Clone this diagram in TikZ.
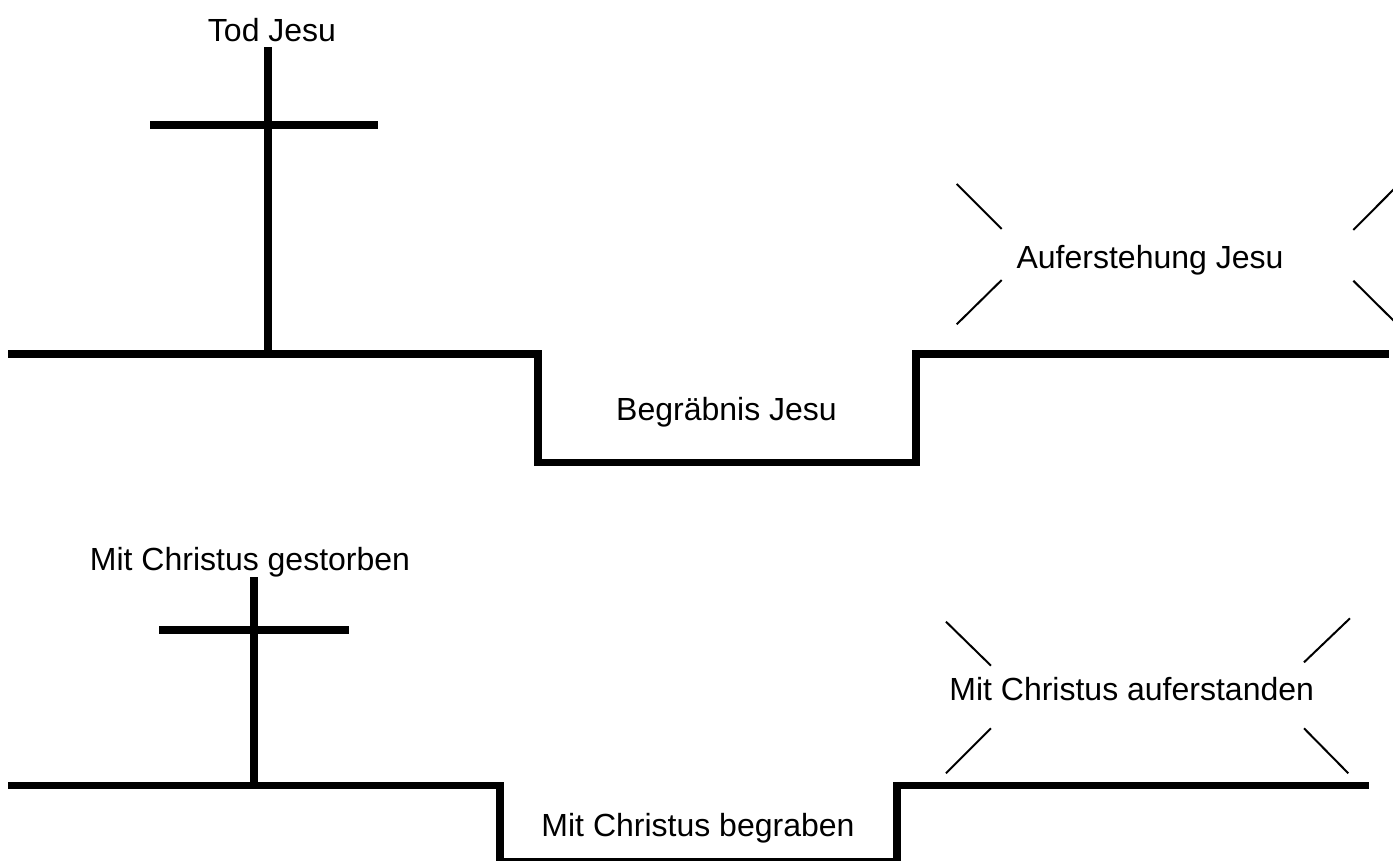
\documentclass[tikz,border=0pt]{standalone}
\usepackage{fontspec}
\setmainfont{Liberation Sans}
\usepackage{tikz}
\usetikzlibrary{positioning}

\tikzset{
  ground/.style={line width=7.7pt, line join=miter},
  beam/.style={line width=7.7pt},
  ray/.style={line width=2pt},
  caption/.style={anchor=base, inner sep=0pt, font=\fontsize{32}{38}\selectfont}
}

\begin{document}
\begin{tikzpicture}[x=1pt, y=-1pt]

    \useasboundingbox (0, 0) rectangle (1393, 860);

    % Jesus
    \draw [ground] (8, 354) -- (538, 354) -- (538, 462.5)
    -- (916, 462.5) -- (916, 354) -- (1389, 354);
    \draw [beam] (268, 47) -- (268, 354);
    \draw [beam] (150, 125) -- (378, 125);

    \node [caption] (tod) at (272, 41) {Tod Jesu};
    \node [caption] (grab) at (726.5, 420) {Begräbnis Jesu};
    \node [caption] (auf) at (1150, 268) {Auferstehung Jesu};

    \draw [ray] (956.7, 184) -- (1001.7, 229);
    \draw [ray] (1001.7, 280) -- (956.7, 324.3);
    \draw [ray] (1398, 185) -- (1353.3, 230);
    \draw [ray] (1353.3, 280.7) -- (1398, 325);

    % mit Christus
    \draw [ground] (8, 785.5) -- (500, 785.5) -- (500, 862)
    -- (897, 862) -- (897, 785.5) -- (1369, 785.5);
    \draw [beam] (254, 577) -- (254, 785.5);
    \draw [beam] (159, 630) -- (349, 630);

    \node [caption] (gestorben) at (250, 570) {Mit Christus gestorben};
    \node [caption] (begraben) at (698, 836.7) {Mit Christus begraben};
    \node [caption] (auferstanden) at (1131.7, 700) {Mit Christus auferstanden};

    \draw [ray] (946, 621.7) -- (991, 665.7);
    \draw [ray] (991, 728.3) -- (946, 773.3);
    \draw [ray] (1350, 618.3) -- (1304, 662.3);
    \draw [ray] (1304, 728.3) -- (1348.3, 773.3);

  \end{tikzpicture}
\end{document}
